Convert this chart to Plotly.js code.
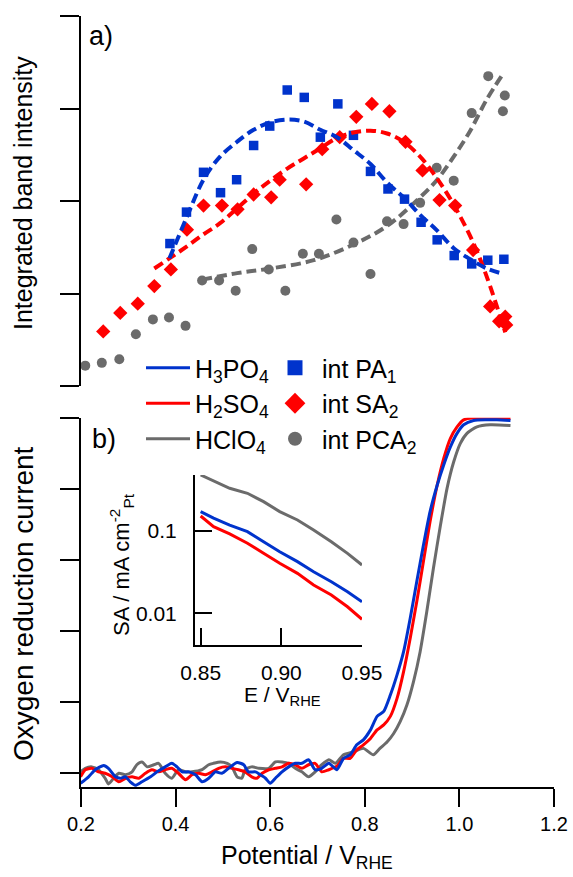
<!DOCTYPE html>
<html>
<head>
<meta charset="utf-8">
<script src="https://cdn.plot.ly/plotly-3.0.1.min.js"></script>
<style>html,body{margin:0;padding:0;background:#fff;}#chart{width:573px;height:877px;}</style>
</head>
<body>
<div id="chart"></div>
<script>
// ---------- Panel a) : integrated band intensities ----------
const paX = [0.388,0.423,0.459,0.495,0.529,0.565,0.599,0.636,0.672,0.706,0.743,0.776,0.812,0.849,0.884,0.919,0.953,0.989,1.026,1.060,1.094];
const paY = [1.54,1.88,2.31,2.09,2.23,2.60,2.81,3.20,3.12,2.69,3.05,2.71,2.32,2.13,2.02,1.77,1.58,1.41,1.32,1.36,1.37];

const saX = [0.247,0.283,0.320,0.355,0.390,0.424,0.459,0.498,0.531,0.565,0.602,0.620,0.676,0.710,0.747,0.782,0.815,0.852,0.886,0.922,0.958,0.991,1.029,1.065,1.084,1.097,1.099];
const saY = [0.59,0.79,0.89,1.08,1.26,1.69,1.95,1.95,1.91,2.07,2.04,2.23,2.18,2.56,2.69,2.91,3.05,2.97,2.64,2.33,2.01,1.95,1.47,0.86,0.70,0.75,0.66];

const pcaX = [0.209,0.244,0.281,0.316,0.352,0.386,0.421,0.456,0.492,0.527,0.562,0.597,0.632,0.669,0.703,0.740,0.776,0.812,0.847,0.882,0.917,0.952,0.988,1.026,1.061,1.092,1.096];
const pcaY = [0.22,0.25,0.29,0.56,0.72,0.74,0.65,1.14,1.14,1.03,1.48,1.26,1.03,1.43,1.43,1.80,1.55,1.21,1.78,1.75,1.98,2.36,2.22,2.95,3.35,2.97,3.14];

// dashed fit curves
const paFitX = [0.387,0.424,0.459,0.494,0.530,0.565,0.600,0.636,0.671,0.706,0.741,0.776,0.812,0.847,0.882,0.917,0.953,0.988,1.023,1.058,1.094];
const paFitY = [1.38,1.83,2.23,2.48,2.64,2.77,2.85,2.88,2.86,2.77,2.69,2.55,2.40,2.20,2.04,1.85,1.68,1.49,1.37,1.27,1.21];
const saFitX = [0.355,0.390,0.424,0.459,0.494,0.530,0.565,0.600,0.636,0.671,0.706,0.741,0.776,0.812,0.847,0.882,0.917,0.945,0.974,1.002,1.030,1.058,1.097];
const saFitY = [1.27,1.39,1.51,1.64,1.76,1.92,2.08,2.22,2.35,2.46,2.57,2.68,2.74,2.76,2.73,2.64,2.48,2.30,2.08,1.83,1.54,1.18,0.58];
const pcaFitX = [0.456,0.530,0.600,0.692,0.776,0.847,0.917,0.953,0.988,1.023,1.058,1.093];
const pcaFitY = [1.15,1.22,1.27,1.36,1.53,1.73,2.04,2.23,2.48,2.76,3.10,3.38];

// ---------- Panel b) : ORR polarisation curves ----------
const orrBlueX = [0.199,0.216,0.230,0.248,0.258,0.273,0.283,0.294,0.304,0.315,0.329,0.347,0.361,0.378,0.392,0.403,0.414,0.428,0.442,0.456,0.470,0.484,0.498,0.512,0.530,0.544,0.554,0.569,0.579,0.590,0.600,0.611,0.625,0.639,0.653,0.667,0.681,0.695,0.709,0.724,0.741,0.755,0.769,0.783,0.797,0.812,0.826,0.840,0.854,0.868,0.882,0.896,0.910,0.924,0.938,0.953,0.967,0.981,0.995,1.009,1.030,1.058,1.079,1.108];
const orrBlueY = [-0.14,-0.05,0.05,0.11,0.07,-0.05,-0.07,-0.05,-0.12,-0.17,-0.12,-0.05,0.02,0.09,0.14,0.09,0.02,0.02,-0.02,-0.12,-0.07,0.02,0.00,0.07,0.15,0.12,0.02,0.02,-0.02,-0.07,-0.14,-0.07,0.02,0.09,0.14,0.14,0.19,0.05,0.07,0.14,0.05,0.21,0.26,0.40,0.47,0.61,0.80,0.87,1.10,1.38,1.71,2.18,2.70,3.21,3.68,4.05,4.34,4.59,4.78,4.90,4.96,4.97,4.97,4.96];

const orrRedX = [0.199,0.209,0.223,0.237,0.251,0.266,0.280,0.294,0.308,0.322,0.336,0.350,0.364,0.378,0.392,0.406,0.421,0.435,0.449,0.463,0.477,0.491,0.505,0.519,0.533,0.547,0.561,0.572,0.583,0.597,0.611,0.625,0.639,0.653,0.667,0.681,0.695,0.709,0.724,0.741,0.755,0.769,0.783,0.797,0.812,0.826,0.840,0.854,0.868,0.882,0.896,0.910,0.924,0.938,0.953,0.967,0.981,0.995,1.009,1.030,1.065,1.108];
const orrRedY = [-0.05,0.05,0.07,0.02,0.00,-0.05,-0.12,-0.07,-0.05,-0.07,0.00,0.05,0.02,0.05,0.07,0.00,-0.09,-0.02,0.00,-0.02,0.02,0.07,0.09,0.07,0.05,0.02,-0.05,-0.07,0.00,0.05,0.07,0.09,0.14,0.12,0.07,0.12,0.14,0.02,0.05,0.10,0.21,0.21,0.33,0.40,0.49,0.61,0.68,0.80,1.05,1.43,1.90,2.42,2.98,3.54,4.05,4.43,4.71,4.87,4.97,5.00,5.00,4.99];

const orrGreyX = [0.199,0.209,0.223,0.237,0.251,0.258,0.269,0.280,0.294,0.308,0.318,0.329,0.340,0.354,0.364,0.378,0.392,0.406,0.421,0.435,0.456,0.470,0.480,0.495,0.509,0.519,0.530,0.540,0.547,0.561,0.576,0.597,0.611,0.625,0.639,0.653,0.667,0.681,0.695,0.709,0.724,0.738,0.755,0.776,0.797,0.818,0.832,0.847,0.861,0.875,0.889,0.903,0.917,0.931,0.945,0.960,0.974,0.988,1.002,1.016,1.037,1.065,1.108];
const orrGreyY = [0.02,0.07,0.09,0.05,-0.07,-0.15,-0.07,0.00,-0.02,0.02,0.12,0.16,0.09,0.12,0.14,0.00,-0.07,0.05,0.02,0.02,0.05,0.12,0.14,0.16,0.14,0.09,-0.05,-0.07,0.05,0.09,0.07,0.07,0.16,0.16,0.14,0.07,0.02,-0.05,0.02,0.12,0.19,0.14,0.26,0.30,0.35,0.26,0.35,0.44,0.56,0.73,0.96,1.29,1.71,2.27,2.88,3.49,4.01,4.38,4.64,4.78,4.87,4.90,4.89];

// ---------- Inset : specific activity (log) ----------
const insX = [0.850,0.858,0.868,0.879,0.889,0.899,0.910,0.920,0.931,0.941,0.950];
const insBlue = [0.172,0.143,0.118,0.098,0.0741,0.0560,0.0424,0.0320,0.0242,0.0183,0.0138];
const insGrey = [0.479,0.408,0.330,0.287,0.227,0.172,0.136,0.103,0.0741,0.0535,0.0386];
const insRedX = [0.850,0.854,0.858,0.868,0.879,0.889,0.899,0.910,0.920,0.931,0.941,0.950];
const insRed = [0.152,0.130,0.113,0.0920,0.0710,0.0536,0.0405,0.0306,0.0221,0.0167,0.0120,0.00845];

// tick labels
const xTicks = [0.2,0.4,0.6,0.8,1.0,1.2];
const xTickText = ['0.2','0.4','0.6','0.8','1.0','1.2'];
const insXTicks = [0.85,0.90,0.95];
const insXTickText = ['0.85','0.90','0.95'];
const insYTicks = [0.01,0.1];
const insYTickText = ['0.01','0.1'];

const BLUE = '#0033CC', RED = '#FF0000', GREY = '#6B6B6B';
const FONT = 'Arial, "Liberation Sans", sans-serif';

const traces = [];
// panel a markers
traces.push({x:pcaX, y:pcaY, xaxis:'x2', yaxis:'y2', mode:'markers', showlegend:false, cliponaxis:false,
  marker:{symbol:'circle', size:10, color:GREY}});
traces.push({x:saX, y:saY, xaxis:'x2', yaxis:'y2', mode:'markers', showlegend:false, cliponaxis:false,
  marker:{symbol:'diamond', size:11, color:RED}});
traces.push({x:paX, y:paY, xaxis:'x2', yaxis:'y2', mode:'markers', showlegend:false, cliponaxis:false,
  marker:{symbol:'square', size:9.5, color:BLUE}});
// panel a fits
traces.push({x:pcaFitX, y:pcaFitY, xaxis:'x2', yaxis:'y2', mode:'lines', showlegend:false,
  line:{color:GREY, width:4, dash:'10px,5px', shape:'spline', smoothing:1}});
traces.push({x:saFitX, y:saFitY, xaxis:'x2', yaxis:'y2', mode:'lines', showlegend:false,
  line:{color:RED, width:4, dash:'10px,5px', shape:'spline', smoothing:1}});
traces.push({x:paFitX, y:paFitY, xaxis:'x2', yaxis:'y2', mode:'lines', showlegend:false,
  line:{color:BLUE, width:4, dash:'10px,5px', shape:'spline', smoothing:1}});
// panel b ORR curves
traces.push({x:orrGreyX, y:orrGreyY, xaxis:'x', yaxis:'y', mode:'lines', name:'HClO<sub>4</sub>', legend:'legend', legendrank:3,
  line:{color:GREY, width:3, shape:'spline', smoothing:0.6}});
traces.push({x:orrRedX, y:orrRedY, xaxis:'x', yaxis:'y', mode:'lines', name:'H<sub>2</sub>SO<sub>4</sub>', legend:'legend', legendrank:2,
  line:{color:RED, width:3, shape:'spline', smoothing:0.6}});
traces.push({x:orrBlueX, y:orrBlueY, xaxis:'x', yaxis:'y', mode:'lines', name:'H<sub>3</sub>PO<sub>4</sub>', legend:'legend', legendrank:1,
  line:{color:BLUE, width:3, shape:'spline', smoothing:0.6}});
// inset
traces.push({x:insX, y:insGrey, xaxis:'x3', yaxis:'y3', mode:'lines', showlegend:false, line:{color:GREY, width:3}});
traces.push({x:insRedX, y:insRed, xaxis:'x3', yaxis:'y3', mode:'lines', showlegend:false, line:{color:RED, width:3}});
traces.push({x:insX, y:insBlue, xaxis:'x3', yaxis:'y3', mode:'lines', showlegend:false, line:{color:BLUE, width:3}});
// legend entries for markers (larger symbols as in the figure)
traces.push({x:[null], y:[null], xaxis:'x2', yaxis:'y2', mode:'markers', name:'int PA<sub>1</sub>', legend:'legend2', legendrank:1,
  marker:{symbol:'square', size:15, color:BLUE}, hoverinfo:'skip'});
traces.push({x:[null], y:[null], xaxis:'x2', yaxis:'y2', mode:'markers', name:'int SA<sub>2</sub>', legend:'legend2', legendrank:2,
  marker:{symbol:'diamond', size:16, color:RED}, hoverinfo:'skip'});
traces.push({x:[null], y:[null], xaxis:'x2', yaxis:'y2', mode:'markers', name:'int PCA<sub>2</sub>', legend:'legend2', legendrank:3,
  marker:{symbol:'circle', size:14, color:GREY}, hoverinfo:'skip'});

const axBase = {showline:true, linewidth:2, linecolor:'black', tickwidth:2, tickcolor:'black',
  showgrid:false, zeroline:false, fixedrange:true};

const PL = 81, PW = 473, PT = 16, PH = 771;
const px2x = p => (p - PL) / PW;
const py2y = p => (PT + PH - p) / PH;

const layout = {
  width:573, height:877,
  margin:{l:PL, r:573-PL-PW, t:PT, b:877-PT-PH, pad:0},
  paper_bgcolor:'white', plot_bgcolor:'rgba(0,0,0,0)',
  font:{family:FONT, color:'black', size:20},
  xaxis:Object.assign({}, axBase, {domain:[0,1], range:[0.2,1.2], anchor:'y',
    tickmode:'array', tickvals:xTicks, ticktext:xTickText, ticks:'outside', ticklen:18,
    tickfont:{size:20, family:FONT}}),
  yaxis:Object.assign({}, axBase, {domain:[0, py2y(417.7)], range:[-0.193,5], anchor:'x',
    tickmode:'array', tickvals:[0,1,2,3,4,5], showticklabels:false, ticks:'outside', ticklen:19}),
  xaxis2:{domain:[0,1], range:[0.2,1.2], anchor:'y2', visible:false, fixedrange:true},
  yaxis2:Object.assign({}, axBase, {domain:[py2y(386), 1], range:[0,4], anchor:'x2',
    tickmode:'array', tickvals:[0,1,2,3,4], showticklabels:false, ticks:'outside', ticklen:19}),
  xaxis3:Object.assign({}, axBase, {domain:[px2x(195), px2x(362)], range:[0.8465,0.95], anchor:'y3',
    tickmode:'array', tickvals:insXTicks, ticktext:insXTickText, ticks:'inside', ticklen:17,
    ticklabelstandoff:8, tickfont:{size:21, family:FONT}}),
  yaxis3:Object.assign({}, axBase, {domain:[py2y(645), py2y(475)], type:'log', range:[-2.385,-0.32], anchor:'x3',
    tickmode:'array', tickvals:insYTicks, ticktext:insYTickText, ticks:'inside', ticklen:17,
    ticklabelstandoff:12, tickfont:{size:21, family:FONT}}),
  legend:{x:px2x(141), y:py2y(345), xanchor:'left', yanchor:'top', bgcolor:'rgba(0,0,0,0)',
    borderwidth:0, font:{size:25, family:FONT}, itemwidth:44, traceorder:'normal', tracegroupgap:0},
  legend2:{x:px2x(268), y:py2y(345), xanchor:'left', yanchor:'top', bgcolor:'rgba(0,0,0,0)',
    borderwidth:0, font:{size:25, family:FONT}, itemwidth:44, traceorder:'normal', tracegroupgap:0, itemsizing:'trace'},
  annotations:[
    {text:'a)', xref:'paper', yref:'paper', x:px2x(101), y:py2y(36), xanchor:'center', yanchor:'middle', showarrow:false, font:{size:27}},
    {text:'b)', xref:'paper', yref:'paper', x:px2x(104), y:py2y(439), xanchor:'center', yanchor:'middle', showarrow:false, font:{size:27}},
    {text:'Integrated band intensity', xref:'paper', yref:'paper', x:px2x(23), y:py2y(193), textangle:-90, xanchor:'center', yanchor:'middle', showarrow:false, font:{size:25}},
    {text:'Oxygen reduction current', xref:'paper', yref:'paper', x:px2x(23), y:py2y(604), textangle:-90, xanchor:'center', yanchor:'middle', showarrow:false, font:{size:28}},
    {text:'Potential / V<sub>RHE</sub>', xref:'paper', yref:'paper', x:px2x(307), y:py2y(857), xanchor:'center', yanchor:'middle', showarrow:false, font:{size:25}},
    {text:'SA / mA cm<sup>-2</sup><sub>Pt</sub>', xref:'paper', yref:'paper', x:px2x(121), y:py2y(565), textangle:-90, xanchor:'center', yanchor:'middle', showarrow:false, font:{size:22}},
    {text:'E / V<sub>RHE</sub>', xref:'paper', yref:'paper', x:px2x(282), y:py2y(696), xanchor:'center', yanchor:'middle', showarrow:false, font:{size:21}}
  ]
};

Plotly.newPlot('chart', traces, layout, {displayModeBar:false, staticPlot:true});
</script>
</body>
</html>
